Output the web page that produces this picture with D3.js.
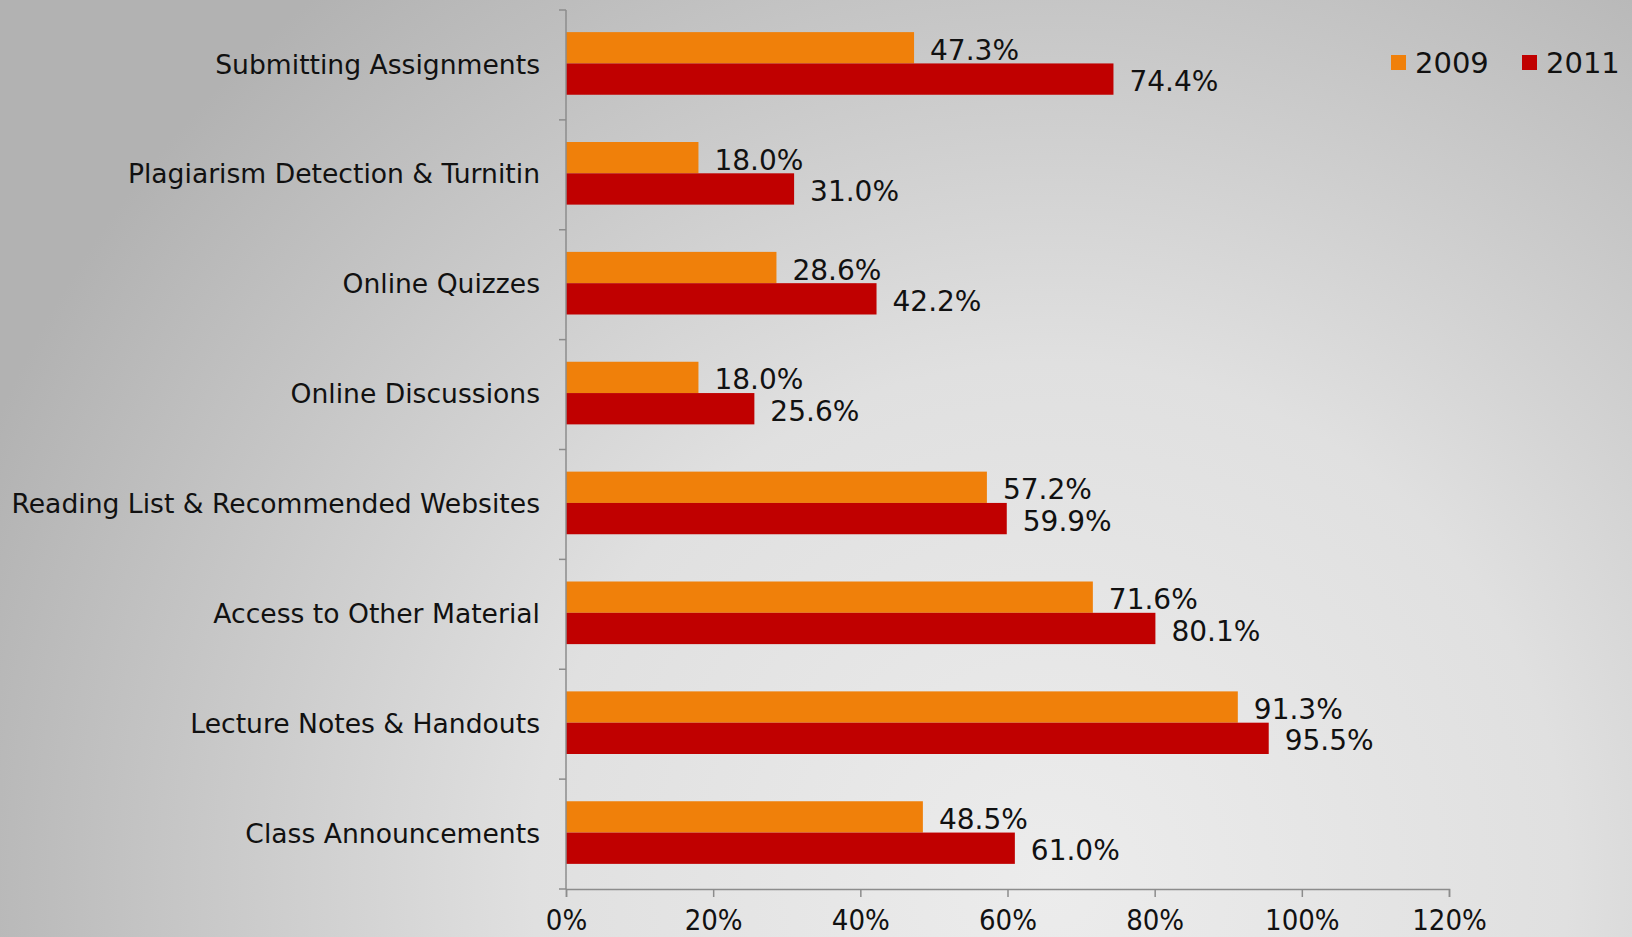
<!DOCTYPE html>
<html>
<head>
<meta charset="utf-8">
<script src="https://cdn.jsdelivr.net/npm/d3@7"></script>
<style>
  html, body { margin: 0; padding: 0; }
  body { width: 1632px; height: 937px; overflow: hidden; }
  text { font-family: "DejaVu Sans", Verdana, sans-serif; fill: #111; }
</style>
</head>
<body>
<script>
// chart values
var categories = ["Submitting Assignments", "Plagiarism Detection & Turnitin", "Online Quizzes",
  "Online Discussions", "Reading List & Recommended Websites", "Access to Other Material",
  "Lecture Notes & Handouts", "Class Announcements"];
var series = ["2009", "2011"];
var values2009 = [47.3, 18.0, 28.6, 18.0, 57.2, 71.6, 91.3, 48.5];
var values2011 = [74.4, 31.0, 42.2, 25.6, 59.9, 80.1, 95.5, 61.0];
var xTicks = [0, 20, 40, 60, 80, 100, 120];
var colors = ["#f0800a", "#c00000"];

var W = 1632, H = 937;
var mLeft = 566, mRight = 1449, mTop = 10, mBottom = 889;

const svg = d3.select('body').append('svg')
    .attr('width', W)
    .attr('height', H);

// background
var defs = svg.append('defs');
var grad = defs.append('radialGradient')
    .attr('id', 'bg')
    .attr('gradientUnits', 'userSpaceOnUse')
    .attr('cx', 1050).attr('cy', 880).attr('r', 1150);
grad.append('stop').attr('offset', '0%').attr('stop-color', '#ececec');
grad.append('stop').attr('offset', '45%').attr('stop-color', '#e0e0e0');
grad.append('stop').attr('offset', '100%').attr('stop-color', '#b2b2b2');
svg.append('rect').attr('width', W).attr('height', H).attr('fill', 'url(#bg)');

var x = d3.scaleLinear().domain([0, 120]).range([mLeft, mRight]);
var y = d3.scaleBand().domain(categories).range([mTop, mBottom])
    .paddingInner(0.43).paddingOuter(0.215);
var sub = d3.scaleBand().domain(series).range([0, y.bandwidth()]);

var rows = categories.map(function(c, i) {
    return {cat: c, vals: [values2009[i], values2011[i]]};
});

// bars
var g = svg.selectAll('g.row')
    .data(rows)
    .enter()
  .append('g')
    .attr('class', 'row')
    .attr('transform', d => 'translate(0,' + (y(d.cat) - 1.5) + ')');

g.selectAll('rect')
    .data(d => d.vals.map((v, i) => ({s: series[i], v: v, i: i})))
    .enter()
  .append('rect')
    .attr('x', x(0))
    .attr('y', d => sub(d.s))
    .attr('width', d => x(d.v) - x(0))
    .attr('height', sub.bandwidth())
    .attr('fill', d => colors[d.i]);

g.selectAll('text.val')
    .data(d => d.vals.map((v, i) => ({s: series[i], v: v, i: i})))
    .enter()
  .append('text')
    .attr('class', 'val')
    .attr('x', d => x(d.v) + 16)
    .attr('y', d => sub(d.s) + sub.bandwidth() / 2 + 2)
    .attr('dy', '0.36em')
    .style('font-size', '28px')
    .text(d => d.v.toFixed(1) + '%');

// y axis
var yBounds = d3.range(categories.length + 1).map(i => mTop + i * y.step());
var ya = svg.append('g');
ya.append('line')
    .attr('x1', x(0)).attr('x2', x(0))
    .attr('y1', mTop).attr('y2', mBottom)
    .attr('stroke', '#8c8c8c').attr('stroke-width', 1.5);
ya.selectAll('line.tk')
    .data(yBounds)
    .enter()
  .append('line')
    .attr('class', 'tk')
    .attr('x1', x(0) - 7).attr('x2', x(0))
    .attr('y1', d => d).attr('y2', d => d)
    .attr('stroke', '#8c8c8c').attr('stroke-width', 1.5);
ya.selectAll('text')
    .data(categories)
    .enter()
  .append('text')
    .attr('x', x(0) - 26)
    .attr('y', d => y(d) + y.bandwidth() / 2 - 1)
    .attr('dy', '0.36em')
    .attr('text-anchor', 'end')
    .style('font-size', '26.6px')
    .text(d => d);

// x axis
var xa = svg.append('g')
    .attr('transform', 'translate(0,' + mBottom + ')')
    .call(d3.axisBottom(x).tickValues(xTicks).tickSize(8).tickPadding(12)
        .tickFormat(d => d + '%'));
xa.select('.domain').attr('stroke', '#8c8c8c').attr('stroke-width', 1.5);
xa.selectAll('.tick line').attr('stroke', '#8c8c8c').attr('stroke-width', 1.5);
xa.selectAll('.tick text')
    .style('font-family', '"DejaVu Sans Condensed", "DejaVu Sans", sans-serif')
    .style('font-size', '29px')
    .attr('fill', '#111');

// legend
var legX = [1391, 1522];
var leg = svg.selectAll('g.leg')
    .data(series)
    .enter()
  .append('g')
    .attr('class', 'leg')
    .attr('transform', (d, i) => 'translate(' + legX[i] + ',55)');
leg.append('rect')
    .attr('width', 15).attr('height', 15)
    .attr('fill', (d, i) => colors[i]);
leg.append('text')
    .attr('x', 24).attr('y', 7.5)
    .attr('dy', '0.36em')
    .style('font-size', '29px')
    .text(d => d);
</script>
</body>
</html>
